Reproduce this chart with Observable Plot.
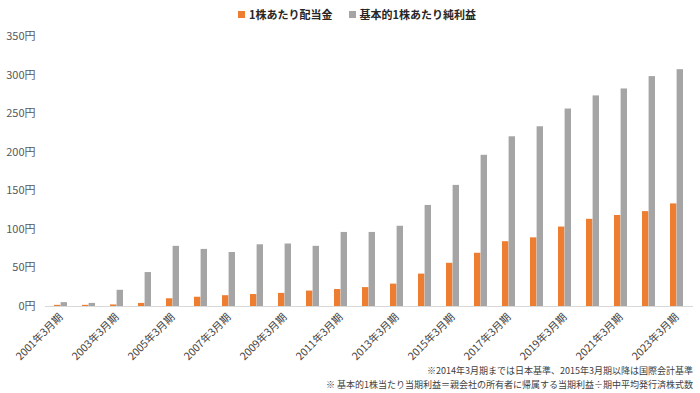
<!DOCTYPE html>
<html>
<head>
<meta charset="utf-8">
<script src="https://cdn.jsdelivr.net/npm/d3@7"></script>
<script src="https://cdn.jsdelivr.net/npm/@observablehq/plot@0.6"></script>
<style>
  html, body { margin: 0; padding: 0; background: #fff; }
  #wrap { position: relative; width: 700px; height: 393px; overflow: hidden; font-family: "Noto Sans CJK JP", "Noto Sans", sans-serif; }
  #legend { position: absolute; top: 6px; left: 238px; font-size: 11px; font-weight: bold; color: #262626; display: flex; align-items: center; white-space: nowrap; }
  #legend .sw { display: inline-block; width: 7px; height: 7px; margin-right: 4px; }
  #legend .item { display: flex; align-items: center; margin-right: 16px; }
  .note { position: absolute; right: 7px; font-size: 9px; line-height: 11px; color: #404040; white-space: nowrap; }
</style>
</head>
<body>
<div id="wrap">
  <div id="legend"></div>
  <div id="chart"></div>
  <div class="note" id="note1" style="top:365px"></div>
  <div class="note" id="note2" style="top:379px"></div>
</div>
<script>
const years = [2001,2002,2003,2004,2005,2006,2007,2008,2009,2010,2011,2012,2013,2014,2015,2016,2017,2018,2019,2020,2021,2022,2023];
const dividend = [1.5,1.5,2,4,10,12,14,15.5,17,20,22,24.5,29,42,56,69,84,89,103,113,118,123,133];
const eps = [5,4,21,44,78,74,70,80,81,78,96,96,104,131,157,196,220,233,256,273,282,298,307];
const seriesNames = ["1株あたり配当金", "基本的1株あたり純利益"];
const seriesColors = ["#ED7D31", "#A5A5A5"];
const yTicks = [0,50,100,150,200,250,300,350];
const xTickYears = years.filter(y => y % 2 === 1);
const notes = ["※2014年3月期までは日本基準、2015年3月期以降は国際会計基準",
               "※ 基本的1株当たり当期利益＝親会社の所有者に帰属する当期利益÷期中平均発行済株式数"];

const divData = years.map((y, i) => ({year: y, value: dividend[i]}));
const epsData = years.map((y, i) => ({year: y, value: eps[i]}));

const chart = Plot.plot({
  width: 700,
  height: 393,
  marginTop: 36,
  marginBottom: 87,
  marginLeft: 45,
  marginRight: 7,
  style: {fontFamily: '"Noto Sans CJK JP", "Noto Sans", sans-serif', background: "#fff"},
  x: {type: "band", domain: years, paddingInner: 0.53, paddingOuter: 0.265, label: null},
  y: {domain: [0, 350], label: null},
  marks: [
    Plot.ruleY([0], {stroke: "#d9d9d9", strokeWidth: 1}),
    Plot.barY(divData, {x: "year", y: "value", fill: seriesColors[0], insetRight: 6.6}),
    Plot.barY(epsData, {x: "year", y: "value", fill: seriesColors[1], insetLeft: 6.6}),
    Plot.axisY({ticks: yTicks, tickSize: 0, tickPadding: 10, tickFormat: d => d + "円", fontSize: 11, color: "#595959", label: null}),
    Plot.axisX({ticks: xTickYears, tickSize: 0, tickPadding: 9, tickRotate: -45, tickFormat: d => d + "年3月期", fontSize: 10.5, color: "#404040", label: null})
  ]
});
document.getElementById("chart").appendChild(chart);

const legend = document.getElementById("legend");
seriesNames.forEach((name, i) => {
  const item = document.createElement("span");
  item.className = "item";
  const sw = document.createElement("span");
  sw.className = "sw";
  sw.style.background = seriesColors[i];
  item.appendChild(sw);
  item.appendChild(document.createTextNode(name));
  legend.appendChild(item);
});
document.getElementById("note1").textContent = notes[0];
document.getElementById("note2").textContent = notes[1];
</script>
</body>
</html>
